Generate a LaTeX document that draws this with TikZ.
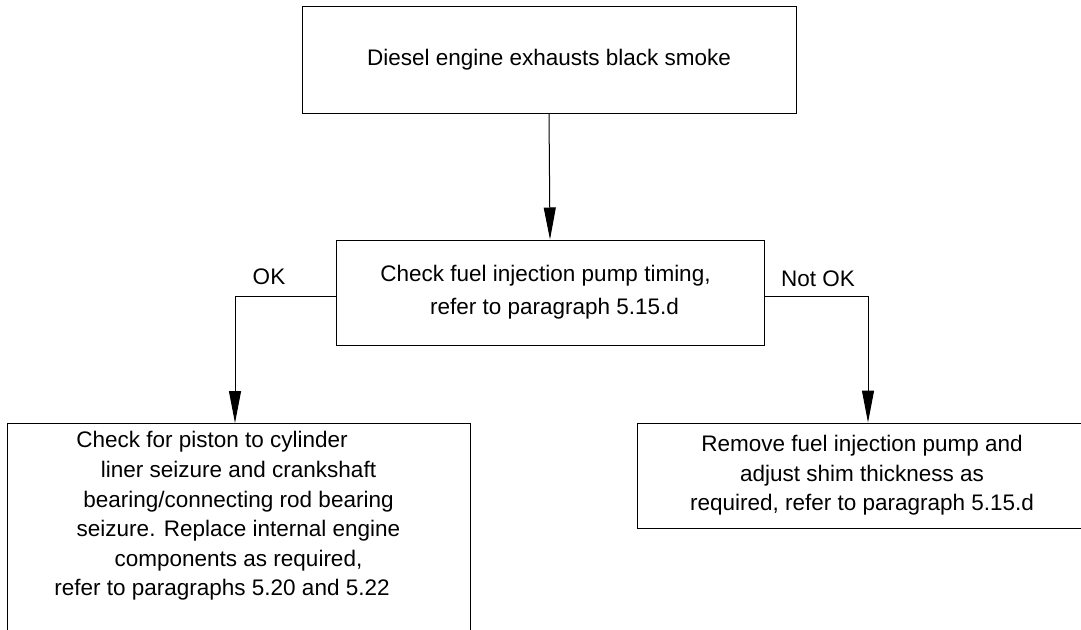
\documentclass[tikz,border=0pt]{standalone}
\usepackage{fontspec}
\setmainfont{Liberation Sans}
\usetikzlibrary{arrows.meta}

\begin{document}
\begin{tikzpicture}[x=1pt, y=-1pt,
    box/.style={draw, line width=1pt, align=center, inner sep=0pt,
      font=\fontsize{22.5}{29.6}\selectfont},
    flow/.style={line width=1pt, -{Triangle[length=32pt, width=12pt]}},
    branch/.style={font=\fontsize{22.5}{27}\selectfont}]
    \clip (0,0) rectangle (1081,629);
    \node[box, minimum width=494pt, minimum height=107pt] (smoke) at (549,59.5)
      {Diesel engine exhausts black smoke};
    \node[box, minimum width=428pt, minimum height=105pt,
      font=\fontsize{22.5}{33}\selectfont] (timing) at (550,292.5)
      {Check fuel injection pump timing,\hspace*{9pt}\\ \hspace*{9pt}refer to paragraph 5.15.d};
    % the lines of this box sit left of its middle
    \node[box, anchor=north, minimum width=463pt, inner ysep=8pt, text depth=60pt] (piston) at (238.5,423)
      {Check for piston to cylinder\hspace*{53pt}\\
       liner seizure and crankshaft\hspace*{55pt}\\
       bearing/connecting rod bearing\hspace*{49pt}\\
       seizure. Replace internal engine\hspace*{43pt}\\
       components as required,\hspace*{33pt}\\
       refer to paragraphs 5.20 and 5.22\hspace*{33pt}};
    \node[box, minimum width=450pt, minimum height=105pt] (shim) at (862,475.5)
      {Remove fuel injection pump and\\ adjust shim thickness as\hspace*{8pt}\\ required, refer to paragraph 5.15.d};
    \coordinate (okdrop) at (235,296);
    \coordinate (notokdrop) at (868,296);
    \draw[flow] (smoke.south) -- (timing.north);
    \draw[flow] (timing.west |- okdrop) -| (okdrop |- piston.north);
    \draw[flow] (timing.east |- notokdrop) -| (notokdrop |- shim.north);
    \node[branch] (ok) at (269,277) {OK};
    \node[branch] (notok) at (818,279) {Not OK};
  \end{tikzpicture}
\end{document}
